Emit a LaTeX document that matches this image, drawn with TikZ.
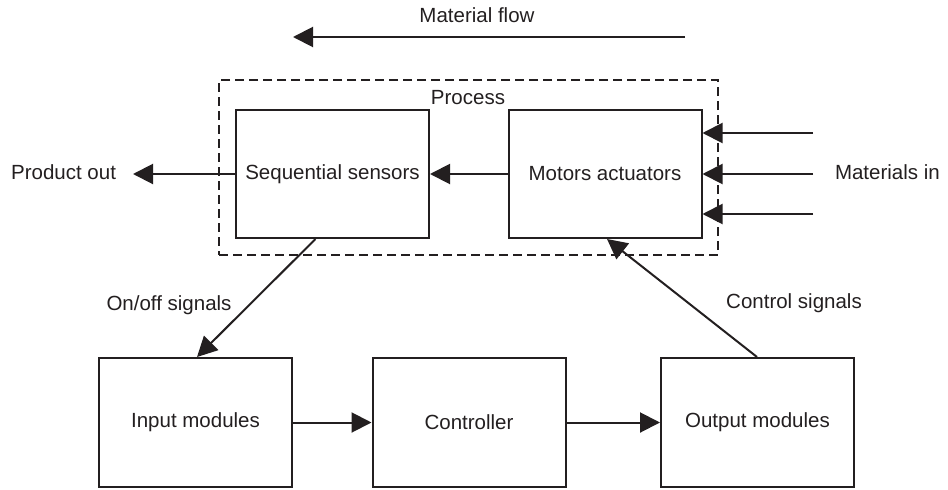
\documentclass[tikz,border=0pt]{standalone}
\usepackage{fontspec}
\setmainfont{Liberation Sans}
\usetikzlibrary{arrows.meta, positioning}
\definecolor{cink}{HTML}{231F20}
\tikzset{
  every picture/.style={font=\fontsize{20.5}{24}\selectfont, line width=2pt, draw=cink, text=cink},
  box/.style={draw=cink, rectangle, line width=2pt, align=center, minimum width=193pt, minimum height=128pt, inner sep=0pt},
  arrow/.style={-{Triangle[length=20pt, width=20pt]}, draw=cink, line width=2pt},
  label/.style={inner sep=0pt, text=cink},
}

\begin{document}
\begin{tikzpicture}[x=1pt, y=-1pt,
    group/.style={draw=cink, dash pattern=on 9pt off 5pt, line width=1.8pt, minimum width=499pt, minimum height=175pt, inner sep=0pt},
  ]
  \useasboundingbox (0,0) rectangle (948,490);

  % ---- material flow
  \node[label] (flow) at (477,15) {Material flow};
  \coordinate (flowa) at (685,37);
  \coordinate (flowb) at (293,37);
  \draw[arrow] (flowa) -- (flowb);

  % ---- process
  \node[group] (proc) at (468.5,167.5) {};
  \node[label] (proctxt) at (468,98) {Process};
  \node[box] (seq) at (332.5,174) {Sequential sensors};
  \node[box] (mot) at (605,174) {Motors actuators};

  \node[label, anchor=east] (pout) at (117,172) {Product out};
  \node[label, anchor=west] (matin) at (834,172) {Materials in};

  \draw[arrow] (mot.west) -- (seq.east);
  \draw[arrow] (seq.west) -- ([xshift=16pt]pout.east |- seq.west);
  \foreach \n/\y in {1/133, 2/174, 3/214} {
    \coordinate (in\n) at (813,\y);
    \draw[arrow] (in\n) -- (in\n -| mot.east);
  }

  % ---- plc
  \node[box, minimum height=129pt] (inp)  at (195.5,422.5) {Input modules};
  \node[box, minimum height=129pt] (ctrl) at (469,422.5)   {Controller};
  \node[box, minimum height=129pt] (outm) at (757.5,422.5) {Output modules};

  \draw[arrow] (inp.east) -- (ctrl.west);
  \draw[arrow] (ctrl.east) -- (outm.west);
  \draw[arrow] ([xshift=-17pt]seq.south) -- ([xshift=1.5pt]inp.north);
  \draw[arrow] ([xshift=-0.5pt]outm.north) -- ([xshift=2pt]mot.south);

  \node[label] (onoff) at (169,305) {On/off signals};
  \node[label] (ctrlsig) at (794,303) {Control signals};
\end{tikzpicture}
\end{document}
